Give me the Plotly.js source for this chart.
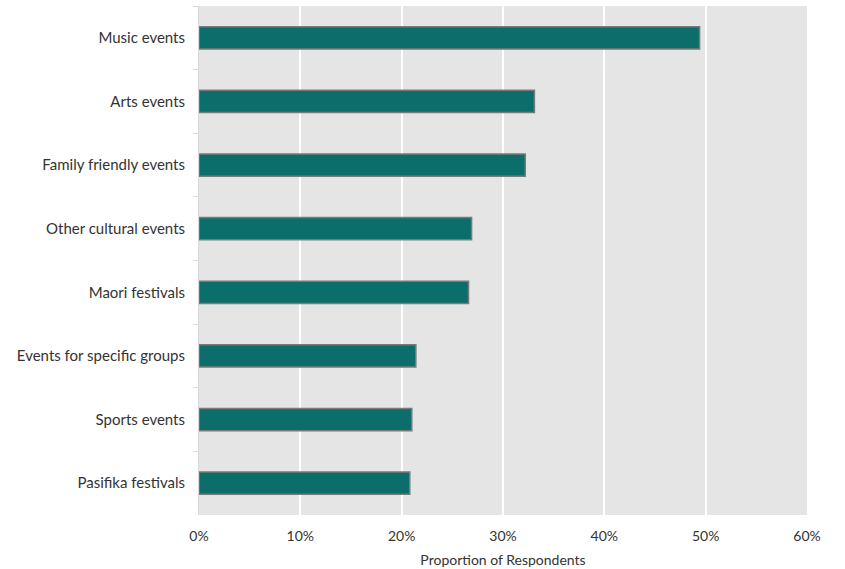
<!DOCTYPE html>
<html>
<head>
<meta charset="utf-8">
<script src="https://cdn.plot.ly/plotly-3.0.1.min.js"></script>
<style>html,body{margin:0;padding:0;background:#fff;}#chart{width:845px;height:569px;}</style>
</head>
<body>
<div id="chart"></div>
<script>
const categories = ["Music events","Arts events","Family friendly events","Other cultural events","Maori festivals","Events for specific groups","Sports events","Pasifika festivals"];
const values = [0.494, 0.331, 0.322, 0.269, 0.266, 0.214, 0.210, 0.208];
const xTickVals = [0, 0.1, 0.2, 0.3, 0.4, 0.5, 0.6];
const xTickText = ["0%","10%","20%","30%","40%","50%","60%"];

const trace = {
  type: "bar",
  orientation: "h",
  y: categories,
  x: values,
  marker: {color: "#0b6e6b", line: {color: "#7a7a7a", width: 1.5}},
  hoverinfo: "none"
};

const layout = {
  width: 845, height: 569,
  margin: {l: 199, r: 38, t: 6, b: 54},
  paper_bgcolor: "#ffffff",
  plot_bgcolor: "#e5e5e5",
  bargap: 0.65,
  showlegend: false,
  font: {family: "Lato, 'Noto Sans', sans-serif", size: 14, color: "#333"},
  xaxis: {
    range: [0, 0.6],
    tickvals: xTickVals,
    ticktext: xTickText,
    showgrid: true, gridcolor: "#ffffff", gridwidth: 2,
    zeroline: false, showline: false,
    ticks: "outside", ticklen: 8, tickcolor: "rgba(0,0,0,0)",
    tickfont: {size: 14, color: "#333"},
    title: {text: "Proportion of Respondents", font: {size: 14, color: "#333"}, standoff: 12},
    fixedrange: true
  },
  yaxis: {
    type: "category",
    autorange: "reversed",
    showgrid: false, zeroline: false,
    showline: true, linecolor: "#d9d9d9", linewidth: 1,
    ticks: "outside", ticklen: 5, tickcolor: "#d9d9d9", tickson: "boundaries",
    tickfont: {size: 15, color: "#333"},
    ticklabelstandoff: 10,
    fixedrange: true
  }
};

Plotly.newPlot("chart", [trace], layout, {displayModeBar: false, staticPlot: true});
</script>
</body>
</html>
